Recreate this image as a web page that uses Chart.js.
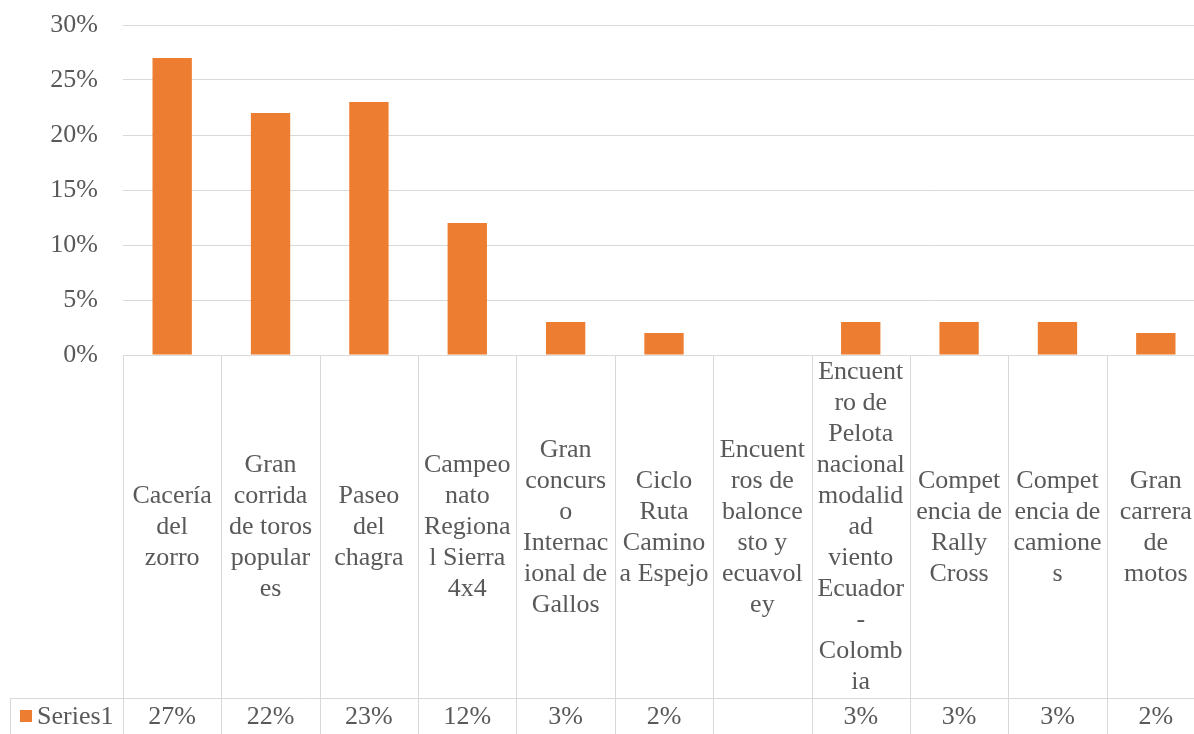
<!DOCTYPE html>
<html>
<head>
<meta charset="utf-8">
<script src="https://cdn.jsdelivr.net/npm/chart.js@4"></script>
<style>
  html, body { margin: 0; padding: 0; background: #fff; overflow: hidden; }
  #wrap { width: 1206px; height: 734px; }
</style>
</head>
<body>
<div id="wrap"><canvas id="c"></canvas></div>
<script>
// Category labels, already wrapped the way the data table shows them
const categories = [
    ['Cacería', 'del', 'zorro'],
    ['Gran', 'corrida', 'de toros', 'popular', 'es'],
    ['Paseo', 'del', 'chagra'],
    ['Campeo', 'nato', 'Regiona', 'l Sierra', '4x4'],
    ['Gran', 'concurs', 'o', 'Internac', 'ional de', 'Gallos'],
    ['Ciclo', 'Ruta', 'Camino', 'a Espejo'],
    ['Encuent', 'ros de', 'balonce', 'sto y', 'ecuavol', 'ey'],
    ['Encuent', 'ro de', 'Pelota', 'nacional', 'modalid', 'ad', 'viento', 'Ecuador', '-', 'Colomb', 'ia'],
    ['Compet', 'encia de', 'Rally', 'Cross'],
    ['Compet', 'encia de', 'camione', 's'],
    ['Gran', 'carrera', 'de', 'motos']
];
const series1 = [27, 22, 23, 12, 3, 2, null, 3, 3, 3, 2];
const seriesName = 'Series1';
const yTicks = [0, 5, 10, 15, 20, 25, 30];

const FONT = "26px 'Liberation Serif', 'Times New Roman', serif";
const TEXT = '#595959';
const LINE = '#d9d9d9';
const ORANGE = '#ED7D31';

// Excel-style data table under the plot
const dataTable = {
    id: 'dataTable',
    afterDraw(chart) {
        const ctx = chart.ctx;
        const area = chart.chartArea;
        const x = chart.scales.x;
        const n = categories.length;
        const catTop = area.bottom;
        const valTop = area.bottom + 343;
        const valBottom = chart.height;
        const legendLeft = 10;

        const edges = [area.left];
        for (let i = 1; i < n; i++) {
            edges.push((x.getPixelForValue(i - 1) + x.getPixelForValue(i)) / 2);
        }
        edges.push(area.right);

        ctx.save();
        ctx.strokeStyle = LINE;
        ctx.lineWidth = 1;
        ctx.beginPath();
        edges.forEach(e => {
            const px = Math.round(e) + 0.5;
            ctx.moveTo(px, catTop);
            ctx.lineTo(px, valBottom);
        });
        ctx.moveTo(legendLeft + 0.5, valTop);
        ctx.lineTo(legendLeft + 0.5, valBottom);
        ctx.moveTo(legendLeft, valTop + 0.5);
        ctx.lineTo(area.right, valTop + 0.5);
        ctx.stroke();

        ctx.font = FONT;
        ctx.fillStyle = TEXT;
        ctx.textAlign = 'center';
        ctx.textBaseline = 'middle';
        const lh = 31;
        const mid = (catTop + valTop) / 2 + 1;
        categories.forEach((lines, i) => {
            const cx = x.getPixelForValue(i);
            const y0 = mid - (lines.length - 1) * lh / 2;
            lines.forEach((t, j) => ctx.fillText(t, cx, y0 + j * lh));
            if (series1[i] != null) {
                ctx.fillText(series1[i] + '%', cx, valTop + 19);
            }
        });

        // legend key
        ctx.fillStyle = ORANGE;
        ctx.fillRect(20, valTop + 12, 12, 12);
        ctx.fillStyle = TEXT;
        ctx.textAlign = 'left';
        ctx.fillText(seriesName, 37, valTop + 19);
        ctx.restore();
    }
};

new Chart(document.getElementById('c'), {
    type: 'bar',
    data: {
        labels: categories.map(l => l.join(' ')),
        datasets: [{
            label: seriesName,
            data: series1,
            backgroundColor: ORANGE,
            categoryPercentage: 1,
            barPercentage: 0.4
        }]
    },
    options: {
        responsive: true,
        maintainAspectRatio: false,
        animation: false,
        layout: { padding: { left: 0, top: 25, right: 1, bottom: 379 } },
        plugins: {
            legend: { display: false },
            tooltip: { enabled: false }
        },
        scales: {
            x: { display: false },
            y: {
                min: 0,
                max: 30,
                afterFit(scale) {
                    scale.width = 123;
                    scale.paddingTop = 0;
                    scale.paddingBottom = 0;
                },
                afterBuildTicks(scale) { scale.ticks = yTicks.map(v => ({ value: v })); },
                border: { display: false },
                grid: { color: LINE, lineWidth: 1, drawTicks: false },
                ticks: {
                    padding: 25,
                    color: TEXT,
                    font: { family: "'Liberation Serif', 'Times New Roman', serif", size: 26 },
                    callback: v => v + '%'
                }
            }
        }
    },
    plugins: [dataTable]
});
</script>
</body>
</html>
